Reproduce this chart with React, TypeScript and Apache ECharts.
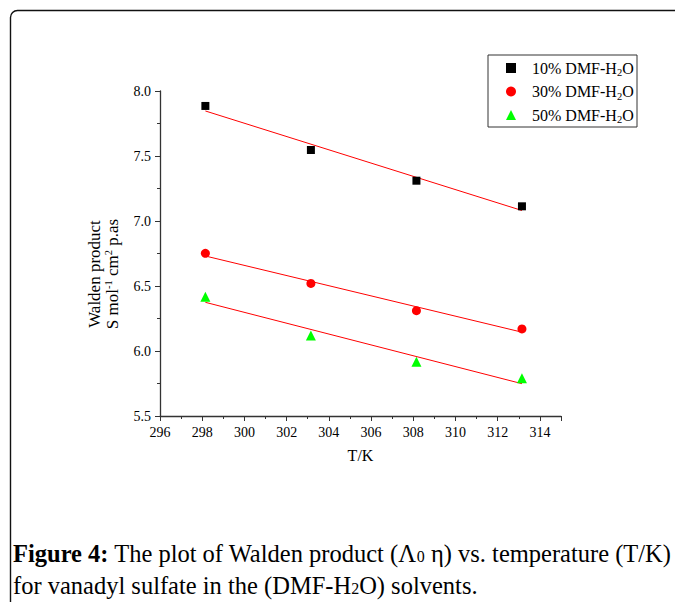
import React, { useEffect, useRef } from "react";
import * as echarts from "echarts";

const temps = [298.15, 303.15, 308.15, 313.15];
const dmf10 = [7.885, 7.546, 7.31, 7.113];
const dmf30 = [6.751, 6.52, 6.31, 6.17];
const dmf50 = [6.418, 6.12, 5.918, 5.79];
const seriesNames = ["10% DMF-H2O", "30% DMF-H2O", "50% DMF-H2O"];
const xMin = 296;
const xMax = 315;
const xMajor = 2;
const yMin = 5.5;
const yMax = 8.0;
const yMajor = 0.5;

const FONT = "'Liberation Serif', 'Times New Roman', serif";

function fitLine(xs: number[], ys: number[]) {
  const n = xs.length;
  const mx = xs.reduce((a, b) => a + b, 0) / n;
  const my = ys.reduce((a, b) => a + b, 0) / n;
  let sxy = 0;
  let sxx = 0;
  for (let i = 0; i < n; i++) {
    sxy += (xs[i] - mx) * (ys[i] - my);
    sxx += (xs[i] - mx) * (xs[i] - mx);
  }
  const b = sxy / sxx;
  const a = my - b * mx;
  const x0 = Math.min(...xs);
  const x1 = Math.max(...xs);
  return [
    [x0, a + b * x0],
    [x1, a + b * x1],
  ];
}

const pts = (ys: number[]) => temps.map((t, i) => [t, ys[i]]);

export default function App() {
  const ref = useRef<HTMLDivElement>(null);
  useEffect(() => {
    if (!ref.current) return;
    const chart = echarts.init(ref.current, null, { renderer: "svg" });
    const legendRich = {
      sub: { fontFamily: FONT, fontSize: 10.5, lineHeight: 10, verticalAlign: "bottom", color: "#000" },
    };
    const symbols = ["rect", "circle", "triangle"];
    const sizes = [8, 9, 10];
    const colors = ["#000000", "#ff0000", "#00ff00"];
    const dataSets = [dmf10, dmf30, dmf50];
    const scatterSeries = dataSets.map((ys, i) => ({
      name: seriesNames[i],
      type: "scatter",
      xAxisIndex: 0,
      symbol: symbols[i],
      symbolSize: sizes[i],
      itemStyle: { color: colors[i], opacity: 1 },
      data: pts(ys),
      z: 3,
    }));
    const fitSeries = dataSets.map((ys, i) => ({
      name: "fit" + i,
      type: "line",
      xAxisIndex: 0,
      data: fitLine(temps, ys),
      showSymbol: false,
      symbol: "none",
      lineStyle: { color: "#ff0000", width: 1 },
      silent: true,
      z: 2,
    }));
    chart.setOption({
      animation: false,
      backgroundColor: "#ffffff",
      grid: { left: 160, top: 91, right: 114, bottom: 186, containLabel: false },
      xAxis: [
        {
          type: "value",
          min: xMin,
          max: xMax,
          interval: 1,
          position: "bottom",
          name: "T/K",
          nameLocation: "middle",
          nameGap: 31,
          nameTextStyle: { fontFamily: FONT, fontSize: 16, color: "#000" },
          axisLine: { show: true, lineStyle: { color: "#333", width: 1.3 } },
          axisTick: { show: true, inside: false, length: 3, lineStyle: { color: "#333" } },
          axisLabel: {
            margin: 9,
            fontFamily: FONT,
            fontSize: 14,
            color: "#000",
            formatter: (v: number) => ((v - xMin) % xMajor === 0 ? String(v) : ""),
            showMaxLabel: false,
          },
          splitLine: { show: false },
        },
        {
          type: "value",
          min: xMin,
          max: xMax,
          interval: xMajor,
          position: "bottom",
          axisLine: { show: false },
          axisTick: { show: true, inside: false, length: 5, lineStyle: { color: "#333" } },
          axisLabel: { show: false },
          splitLine: { show: false },
        },
      ],
      yAxis: {
        type: "value",
        min: yMin,
        max: yMax,
        interval: yMajor,
        axisLine: { show: true, lineStyle: { color: "#333", width: 1.3 } },
        axisTick: { show: true, inside: false, length: 5, lineStyle: { color: "#333" } },
        minorTick: { show: true, splitNumber: 2, length: 3, lineStyle: { color: "#333" } },
        axisLabel: {
          margin: 9,
          fontFamily: FONT,
          fontSize: 14,
          color: "#000",
          formatter: (v: number) => v.toFixed(1),
        },
        splitLine: { show: false },
      },
      legend: {
        orient: "vertical",
        left: 506,
        top: 58,
        itemWidth: 10,
        itemHeight: 10,
        itemGap: 3.5,
        padding: 0,
        data: seriesNames.map((n, i) => ({ name: n, icon: symbols[i] })),
        formatter: (name: string) => name.replace("H2O", "H{sub|2}O"),
        textStyle: {
          fontFamily: FONT,
          fontSize: 16,
          lineHeight: 20,
          color: "#000",
          padding: [0, 0, 0, 11],
          rich: legendRich,
        },
        selectedMode: false,
      },
      graphic: [
        {
          type: "rect",
          shape: { x: 10.5, y: 10.5, width: 720, height: 720, r: 7 },
          style: { fill: "none", stroke: "#111", lineWidth: 1.4 },
          silent: true,
          z: 0,
        },
        {
          type: "rect",
          shape: { x: 488, y: 55, width: 149, height: 72 },
          style: { fill: "none", stroke: "#333", lineWidth: 1 },
          silent: true,
        },
        {
          type: "text",
          x: 103,
          y: 274,
          rotation: Math.PI / 2,
          style: {
            text: "Walden product\nS mol{sup|-1} cm{sup|2} p.as",
            fontFamily: FONT,
            fontSize: 17,
            lineHeight: 18,
            fill: "#000",
            align: "center",
            verticalAlign: "middle",
            rich: {
              sup: { fontFamily: FONT, fontSize: 10.5, lineHeight: 10, verticalAlign: "top", fill: "#000" },
            },
          },
        },
        {
          type: "text",
          x: 13,
          y: 537,
          style: {
            text:
              "{b|Figure 4:} The plot of Walden product (Λ{sub|0} η) vs. temperature (T/K)\nfor vanadyl sulfate in the (DMF-H{sub|2}O) solvents.",
            fontFamily: FONT,
            fontSize: 24.5,
            lineHeight: 32,
            fill: "#000",
            rich: {
              b: { fontFamily: FONT, fontSize: 24.5, fontWeight: "bold", lineHeight: 32, fill: "#000" },
              sub: { fontFamily: FONT, fontSize: 16, lineHeight: 16, verticalAlign: "bottom", fill: "#000", padding: [0, 0, 5, 0] },
            },
          },
        },
      ],
      series: [...fitSeries, ...scatterSeries],
    });
    return () => chart.dispose();
  }, []);
  return (
    <div
      ref={ref}
      style={{ position: "absolute", left: 0, top: 0, width: 675, height: 602 }}
    />
  );
}
